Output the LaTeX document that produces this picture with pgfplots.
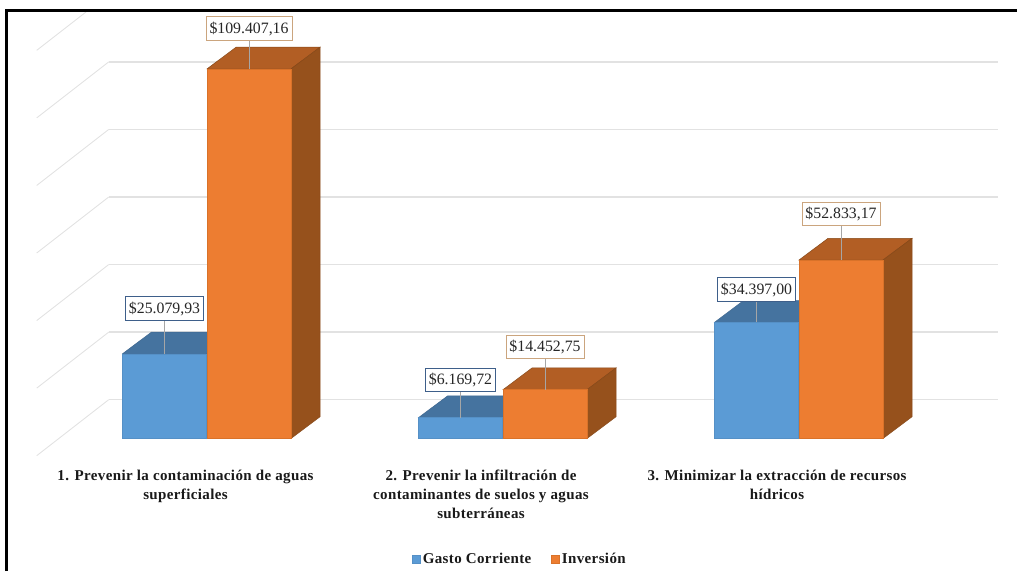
\documentclass[border=0pt]{standalone}
\usepackage{fontspec}
\setmainfont{Liberation Serif}
\usepackage{pgfplots}
\pgfplotsset{compat=1.18}
\definecolor{azul}{HTML}{5B9BD5}
\definecolor{azulTop}{HTML}{45739F}
\definecolor{azulBorde}{HTML}{5590C6}
\definecolor{naranja}{HTML}{ED7D31}
\definecolor{naranjaTop}{HTML}{B25E24}
\definecolor{naranjaLado}{HTML}{96511C}
\definecolor{naranjaBorde}{HTML}{D97229}
\definecolor{rejilla}{HTML}{E2E2E2}
\definecolor{etiqAzul}{HTML}{3E5F8A}
\definecolor{etiqNaranja}{HTML}{CBA57E}

% top and side of a bar: x0 x1 x0+29 x1+29 value value+6424 top side edge
\newcommand{\caras}[9]{
  \addplot[fill=#7, draw=#9, line width=0.5pt, forget plot] coordinates {(#1,#5) (#3,#6) (#4,#6) (#2,#5)} -- cycle;
  \addplot[fill=#8, draw=#9, line width=0.5pt, forget plot] coordinates {(#2,0) (#4,6424) (#4,#6) (#2,#5)} -- cycle;
}
% wall grid line: slanted floor part and back part
\newcommand{\rejilla}[2]{
  \addplot[rejilla, line width=1.4pt, forget plot] coordinates {(108.7,#2) (998,#2)};
  \addplot[rejilla, line width=0.9pt, forget plot] coordinates {(36.7,#1) (108.7,#2)};
}
% data label with its leader line: x value bottom-of-box text colour
\newcommand{\etiqueta}[5]{
  \draw[black!35, line width=0.8pt] (axis cs:#1,#2) -- (axis cs:#1,#3);
  \node[anchor=south, draw=#5, line width=0.9pt, fill=white, text=black!85, inner xsep=3.5pt, inner ysep=0pt,
        minimum height=23.4pt, font=\fontsize{15.8}{18}\selectfont] at (axis cs:#1,#3) {#4};
}
\pgfplotsset{cuadro/.style={legend image code/.code={\fill[##1] (0pt,-3.5pt) rectangle (8pt,4.5pt);}}}

\begin{document}
\begin{tikzpicture}
\begin{axis}[
  scale only axis,
  width=1017pt,
  height=571pt,
  xmin=0, xmax=1017,
  ymin=-39224, ymax=129809,
  axis line style={draw=none},
  tick style={draw=none},
  ymajorticks=false,
  xtick={185.5,481,777},
  xticklabels={{1. Prevenir la contaminación de aguas\\superficiales},
               {2. Prevenir la infiltración de\\contaminantes de suelos y aguas\\subterráneas},
               {3. Minimizar la extracción de recursos\\hídricos}},
  x tick label style={align=center, yshift=104.5pt,
    font=\fontsize{15}{19}\selectfont\bfseries\addfontfeatures{LetterSpace=2.5}, text=black!90},
  legend columns=2,
  legend style={at={(axis cs:520,-35820)}, anchor=center, draw=none, fill=none,
    font=\fontsize{15}{16}\selectfont\bfseries\addfontfeatures{LetterSpace=2.5}, text=black!90,
    /tikz/every even column/.append style={column sep=18pt}},
]
% back wall grid
\rejilla{-5092}{11486}
\rejilla{14908}{31486}
\rejilla{34908}{51486}
\rejilla{54908}{71486}
\rejilla{74908}{91486}
\rejilla{94908}{111486}
\addplot[rejilla, line width=0.9pt, forget plot] coordinates {(36.7,114908) (86,126258)};

% Gasto Corriente
\caras{122.5}{206.5}{151.5}{235.5}{25079.93}{31503.93}{azulTop}{azulTop}{azulTop!90!black}
\caras{418.5}{502.5}{447.5}{531.5}{6169.72}{12593.72}{azulTop}{azulTop}{azulTop!90!black}
\caras{714.5}{798.5}{743.5}{827.5}{34397}{40821}{azulTop}{azulTop}{azulTop!90!black}
\addplot[ybar, bar width=84, bar shift=0pt, fill=azul, draw=azulBorde, line width=0.5pt, cuadro]
  coordinates {(164.5,25079.93) (460.5,6169.72) (756.5,34397)};
\addlegendentry{Gasto Corriente}

% Inversión
\caras{207}{291}{236}{320}{109407.16}{115831.16}{naranjaTop}{naranjaLado}{naranjaLado!90!black}
\caras{503}{587}{532}{616}{14452.75}{20876.75}{naranjaTop}{naranjaLado}{naranjaLado!90!black}
\caras{799}{883}{828}{912}{52833.17}{59257.17}{naranjaTop}{naranjaLado}{naranjaLado!90!black}
\addplot[ybar, bar width=84, bar shift=0pt, fill=naranja, draw=naranjaBorde, line width=0.5pt, cuadro]
  coordinates {(249,109407.16) (545,14452.75) (841,52833.17)};
\addlegendentry{Inversión}

\etiqueta{164.5}{25079.93}{34872}{\$25.079,93}{etiqAzul}
\etiqueta{249}{109407.16}{117762}{\$109.407,16}{etiqNaranja}
\etiqueta{460.5}{6169.72}{13676}{\$6.169,72}{etiqAzul}
\etiqueta{545}{14452.75}{23445}{\$14.452,75}{etiqNaranja}
\etiqueta{756.5}{34397}{40497}{\$34.397,00}{etiqAzul}
\etiqueta{841}{52833.17}{62906}{\$52.833,17}{etiqNaranja}

% outer frame, left and top only
\draw[black, line width=2.6pt] (axis cs:6.5,-39224) -- (axis cs:6.5,126703) -- (axis cs:1017,126703);
\end{axis}
\end{tikzpicture}
\end{document}
